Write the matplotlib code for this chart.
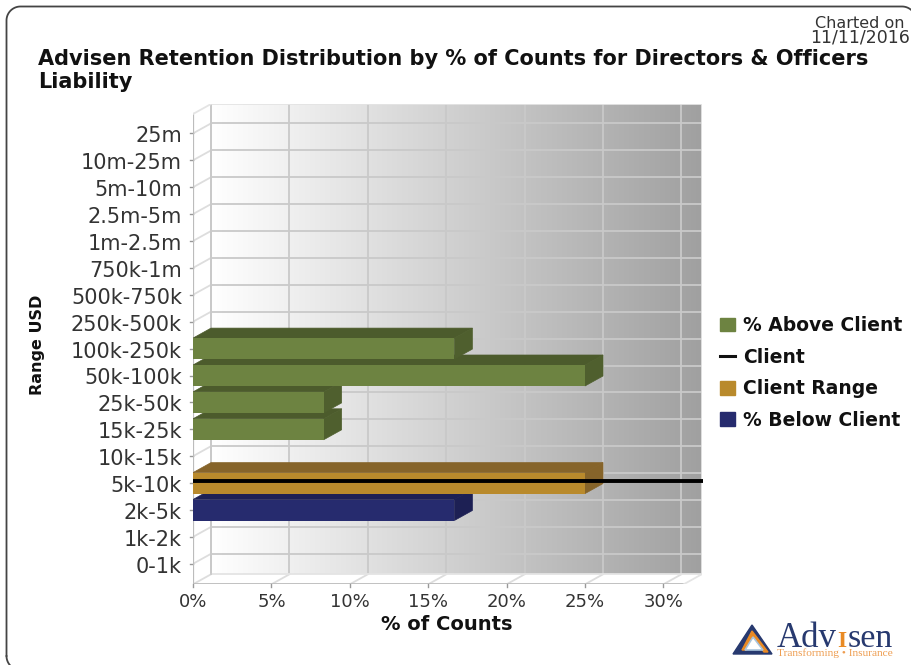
import numpy as np
import matplotlib
matplotlib.use("Agg")
import matplotlib.pyplot as plt
from matplotlib.patches import Polygon, Patch
from matplotlib.lines import Line2D
from matplotlib.colors import LinearSegmentedColormap

categories = ["0-1k", "1k-2k", "2k-5k", "5k-10k", "10k-15k", "15k-25k", "25k-50k", "50k-100k",
              "100k-250k", "250k-500k", "500k-750k", "750k-1m", "1m-2.5m", "2.5m-5m", "5m-10m",
              "10m-25m", "25m"]
below_client = {"2k-5k": 16.67}
client_range = {"5k-10k": 25.0}
above_client = {"15k-25k": 8.33, "25k-50k": 8.33, "50k-100k": 25.0, "100k-250k": 16.67}
client_position = 3.08
x_ticks = [0, 5, 10, 15, 20, 25, 30]
title = "Advisen Retention Distribution by % of Counts for Directors & Officers\nLiability"

W, H = 912, 665
PX_X = 78.4 / 5
PX_Y = 26.9
X0, Y0 = 193.0, 563.8
LEFT, RIGHT, TOP, BOT = 193.0, 701.7, 104.0, 584.3
DX, DY = 18 / PX_X, 10 / PX_Y

fig = plt.figure(figsize=(W / 100, H / 100), dpi=100, facecolor="white")
ax = fig.add_axes([LEFT / W, 1 - BOT / H, (RIGHT - LEFT) / W, (BOT - TOP) / H])
ax.set_xlim(0, (RIGHT - LEFT) / PX_X)
ax.set_ylim((Y0 - BOT) / PX_Y, (Y0 - TOP) / PX_Y)
ax.axis("off")
x_min, x_max = ax.get_xlim()
y_min, y_max = ax.get_ylim()
x_front = x_max - DX
y_front_top = y_max - DY

GRID = "#c9c9c9"
EDGE = "#bcbcbc"
LIGHT = "#e4e4e4"
TXT = "#333333"

# back wall gradient
cmap = LinearSegmentedColormap.from_list("wall", ["#ffffff", "#a0a0a0"])
ax.imshow(np.linspace(0, 1, 256)[None, :], extent=(DX, x_max, y_min + DY, y_max), aspect="auto",
          cmap=cmap, zorder=0, interpolation="bilinear")
ax.set_xlim(x_min, x_max)
ax.set_ylim(y_min, y_max)

# wall grid
for i in range(len(categories)):
    ax.plot([DX, x_max], [i + DY, i + DY], color=GRID, lw=1.3, zorder=1)
    ax.plot([0, DX], [i, i + DY], color="#dddddd", lw=1.3, zorder=1)
    ax.plot([-3 / PX_X, 0], [i, i], color="#999999", lw=1, zorder=1, clip_on=False)
for t in x_ticks:
    ax.plot([t + DX, t + DX], [y_min + DY, y_max], color=GRID, lw=1.3, zorder=1)
    ax.plot([t, t + DX], [y_min, y_min + DY], color="#dddddd", lw=1.3, zorder=1)
    ax.plot([t, t], [y_min, y_min - 3 / PX_Y], color="#999999", lw=1, zorder=1, clip_on=False)
    ax.text(t, y_min - 18 / PX_Y, f"{t}%", ha="center", va="center", fontsize=13, color=TXT, clip_on=False)

# frame of the 3D box
ax.plot([0, 0], [y_min, y_front_top], color=EDGE, lw=1.6, zorder=2)
ax.plot([0, x_front], [y_min, y_min], color=EDGE, lw=1.3, zorder=2)
ax.plot([DX, x_max, x_max], [y_max, y_max, y_min + DY], color=LIGHT, lw=1.3, zorder=2)
ax.plot([DX, x_max], [y_min + DY, y_min + DY], color=LIGHT, lw=1.3, zorder=2)
ax.plot([DX, DX], [y_min + DY, y_max], color=GRID, lw=1.3, zorder=2)
ax.plot([0, DX], [y_front_top, y_max], color=LIGHT, lw=1.3, zorder=2)
ax.plot([x_front, x_max], [y_min, y_min + DY], color=LIGHT, lw=1.3, zorder=2)

BAR_H = 21 / PX_Y


def bar3d(cat, val, front, top, side):
    y = categories.index(cat)
    z = 3 + y * 0.1
    b, t = y - BAR_H / 2, y + BAR_H / 2
    ax.add_patch(Polygon([(0, t), (DX, t + DY), (val + DX, t + DY), (val, t)], fc=top, ec=top, lw=.5, zorder=z))
    ax.add_patch(Polygon([(val, b), (val + DX, b + DY), (val + DX, t + DY), (val, t)], fc=side, ec=side, lw=.5, zorder=z))
    ax.barh(y, val, height=BAR_H, left=0, color=front, zorder=z + .01)


for cat, val in above_client.items():
    bar3d(cat, val, "#6d8341", "#4c5b2c", "#4f5f2e")
for cat, val in client_range.items():
    bar3d(cat, val, "#b98a2c", "#86642a", "#86642a")
for cat, val in below_client.items():
    bar3d(cat, val, "#262b6e", "#1d2054", "#1d2054")

ax.plot([0, x_max + 1.5 / PX_X], [client_position, client_position], color="black", lw=2.8, zorder=7,
        clip_on=False, solid_capstyle="butt")

for i, c in enumerate(categories):
    ax.text(-11 / PX_X, i - 3 / PX_Y, c, ha="right", va="center", fontsize=15, color=TXT, clip_on=False)


def fx(p):
    return p / W


def fy(p):
    return 1 - p / H


fig.text(fx(447), fy(625), "% of Counts", ha="center", va="center", fontsize=14, fontweight="bold", color="#111111")
fig.text(fx(38), fy(345), "Range USD", ha="center", va="center", rotation=90, fontsize=11.5, fontweight="bold", color="#111111")
fig.text(fx(38), fy(92), title, ha="left", va="bottom", fontsize=15, fontweight="bold", color="#111111", linespacing=1.18)
fig.text(fx(860), fy(23.5), "Charted on", ha="center", va="center", fontsize=11.5, color=TXT)
fig.text(fx(860), fy(37.5), "11/11/2016", ha="center", va="center", fontsize=12.5, color=TXT)

# rounded outer frame (its bottom and right run off the picture)
frame_l, frame_r, frame_t, frame_b, r = 6.5, 916, 6.5, 670, 14
ang = np.linspace(0, np.pi / 2, 20)
px = np.concatenate([[frame_l], frame_l + r - r * np.cos(ang), frame_r - r + r * np.sin(ang)])
py = np.concatenate([[frame_b - r], frame_t + r - r * np.sin(ang), frame_t + r - r * np.cos(ang)])
fig.add_artist(Line2D(fx(px), fy(py), color="#444444", lw=1.3))
px2 = frame_l + r - r * np.cos(ang)
py2 = frame_b - r + r * np.sin(ang)
fig.add_artist(Line2D(fx(px2), fy(py2), color="#444444", lw=1.3))

# legend
handles = [Patch(fc="#6d8341", ec="#6d8341"),
           Line2D([0], [0], color="#111111", lw=2.2),
           Patch(fc="#b98a2c", ec="#b98a2c"),
           Patch(fc="#262b6e", ec="#262b6e")]
labels = ["% Above Client", "Client", "Client Range", "% Below Client"]
fig.legend(handles, labels, loc="center left", bbox_to_anchor=(fx(720), fy(373)), frameon=False,
           prop={"weight": "bold", "size": 13.5}, labelspacing=0.67, handlelength=0.8, handleheight=0.75,
           handletextpad=0.43, borderpad=0, borderaxespad=0, labelcolor="#111111")

# logo
NAVY, ORG, SKY = "#27396f", "#e98a24", "#a8c4dc"
fig.add_artist(Polygon(np.c_[fx(np.array([733, 752, 772])), fy(np.array([654, 625, 654]))], closed=True,
                       fc=NAVY, ec=NAVY, transform=fig.transFigure))
fig.add_artist(Polygon(np.c_[fx(np.array([742, 752, 768, 764, 752, 746])), fy(np.array([650, 631, 652, 652, 637, 650]))],
                       closed=True, fc=ORG, ec=ORG, transform=fig.transFigure))
fig.add_artist(Polygon(np.c_[fx(np.array([745, 753, 763])), fy(np.array([650, 637, 650]))], closed=True,
                       fc="white", ec=SKY, lw=1.2, transform=fig.transFigure))
serif = "Liberation Serif"
fig.text(fx(777), fy(647), "Adv", family=serif, fontsize=25, color=NAVY, ha="left", va="baseline")
fig.text(fx(842), fy(647), "I", family=serif, fontsize=17, fontweight="bold", color=ORG, ha="center", va="baseline")
fig.text(fx(893), fy(647), "sen", family=serif, fontsize=24.5, color=NAVY, ha="right", va="baseline")
fig.text(fx(777), fy(656), "Transforming • Insurance", family=serif, fontsize=8.2, color="#ee9d50", ha="left", va="baseline")

fig.savefig("out.png", dpi=100)
